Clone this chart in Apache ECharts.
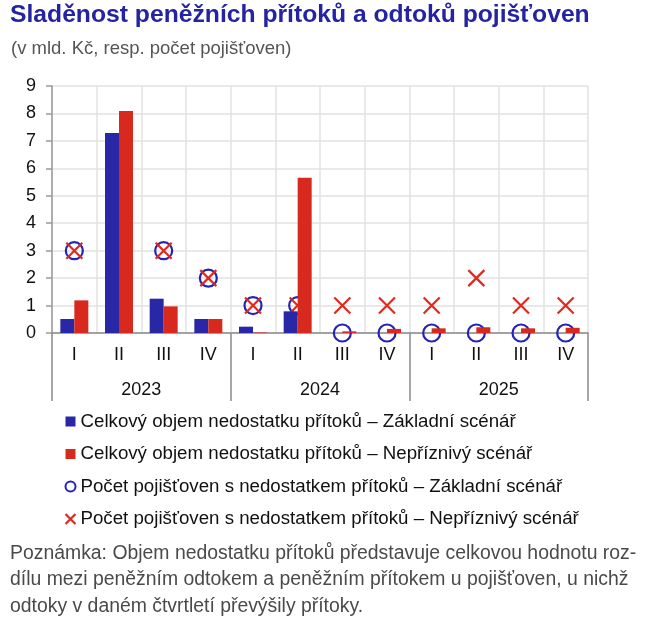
<!DOCTYPE html>
<html>
<head>
<meta charset="utf-8">
<script src="https://cdn.jsdelivr.net/npm/echarts@6/dist/echarts.min.js"></script>
<style>
html,body{margin:0;padding:0;background:#fff;}
#chart{width:670px;height:628px;}
</style>
</head>
<body>
<div id="chart"></div>
<script>
const quarters = ['I','II','III','IV','I','II','III','IV','I','II','III','IV'];
const years = ['2023','2024','2025'];
const yTicks = [0,1,2,3,4,5,6,7,8,9];
const volumeBase = [0.51, 7.29, 1.25, 0.51, 0.23, 0.79, 0, 0, 0, 0, 0, 0];
const volumeAdverse = [1.19, 8.09, 0.97, 0.51, 0.02, 5.66, 0.06, 0.15, 0.17, 0.21, 0.17, 0.19];
const countBase = [3, 3, 3, 2, 1, 1, 0, 0, 0, 0, 0, 0];
const countAdverse = [3, 3, 3, 2, 1, 1, 1, 1, 1, 2, 1, 1];
const seriesNames = [
  'Celkový objem nedostatku přítoků – Základní scénář',
  'Celkový objem nedostatku přítoků – Nepříznivý scénář',
  'Počet pojišťoven s nedostatkem přítoků – Základní scénář',
  'Počet pojišťoven s nedostatkem přítoků – Nepříznivý scénář'
];
const titleText = 'Sladěnost peněžních přítoků a odtoků pojišťoven';
const subtitleText = '(v mld. Kč, resp. počet pojišťoven)';
const noteText = 'Poznámka: Objem nedostatku přítoků představuje celkovou hodnotu roz-\ndílu mezi peněžním odtokem a peněžním přítokem u pojišťoven, u nichž\nodtoky v daném čtvrtletí převýšily přítoky.';

const BLUE = '#2828a6';
const RED = '#d8291f';
const CIRCLE = '#2424b4';
const CROSS = '#e0291c';
const FONT = '"Liberation Sans", Arial, sans-serif';
const crossPath = 'path://M0,0L10,10M10,0L0,10';

const chart = echarts.init(document.getElementById('chart'), null, {renderer:'canvas'});
chart.setOption({
  animation: false,
  backgroundColor: '#fff',
  textStyle: {fontFamily: FONT},
  title: [
    {text: titleText, left: 10, top: 3, padding: 0,
     textStyle: {fontFamily: FONT, fontSize: 24.7, fontWeight: 'bold', color: '#2424a2'}},
    {text: subtitleText, left: 11, top: 39, padding: 0,
     textStyle: {fontFamily: FONT, fontSize: 18.5, fontWeight: 'normal', color: '#555'}}
  ],
  grid: {left: 52, top: 86, width: 536, height: 247, containLabel: false},
  legend: {
    orient: 'vertical', left: 63, top: 412, padding: 0,
    itemWidth: 10, itemHeight: 10, itemGap: 13.5,
    textStyle: {fontFamily: FONT, fontSize: 18.7, color: '#111'},
    data: [
      {name: seriesNames[0], icon: 'rect'},
      {name: seriesNames[1], icon: 'rect'},
      {name: seriesNames[2], icon: 'circle', itemStyle: {color: 'rgba(0,0,0,0)', borderColor: CIRCLE, borderWidth: 2, opacity: 1}},
      {name: seriesNames[3], icon: crossPath, itemStyle: {color: 'none', borderColor: CROSS, borderWidth: 2.2, opacity: 1}}
    ]
  },
  graphic: [{
    type: 'text', left: 10, top: 540,
    style: {text: noteText, font: '19.4px "Liberation Sans", Arial, sans-serif', fill: '#4a4a4a', lineHeight: 26.5}
  }],
  xAxis: [
    {type: 'category', data: quarters, position: 'bottom', boundaryGap: true,
     axisLine: {show: true, lineStyle: {color: '#8a8a8a', width: 1.5}},
     axisTick: {show: false},
     axisLabel: {fontFamily: FONT, fontSize: 18, color: '#111', margin: 13, interval: 0},
     splitLine: {show: true, interval: 0, lineStyle: {color: '#e2e2e2', width: 1.5}}},
    {type: 'category', data: years, position: 'bottom', boundaryGap: true,
     axisLine: {show: false},
     axisTick: {show: true, length: 68, interval: 0, lineStyle: {color: '#8a8a8a', width: 1.5}},
     axisLabel: {fontFamily: FONT, fontSize: 18, color: '#111', margin: 48, interval: 0},
     splitLine: {show: false}}
  ],
  yAxis: {
    type: 'value', min: yTicks[0], max: yTicks[yTicks.length-1], interval: 1,
    axisLine: {show: true, lineStyle: {color: '#9a9a9a', width: 1.5}},
    axisTick: {show: true, length: 6, lineStyle: {color: '#9a9a9a', width: 1.5}},
    axisLabel: {fontFamily: FONT, fontSize: 18, color: '#111', margin: 16},
    splitLine: {show: true, lineStyle: {color: '#e2e2e2', width: 1.5}}
  },
  series: [
    {name: seriesNames[0], type: 'bar', data: volumeBase, barWidth: 14, barGap: '0%', z: 4,
     itemStyle: {color: BLUE}},
    {name: seriesNames[1], type: 'bar', data: volumeAdverse, barWidth: 14, barGap: '0%', z: 4,
     itemStyle: {color: RED}},
    {name: seriesNames[2], type: 'scatter', data: countBase, symbol: 'circle', symbolSize: 17, z: 2,
     itemStyle: {color: 'rgba(0,0,0,0)', borderColor: CIRCLE, borderWidth: 2.2, opacity: 1}},
    {name: seriesNames[3], type: 'scatter', data: countAdverse, symbol: crossPath, symbolSize: 16, z: 3,
     itemStyle: {color: 'none', borderColor: CROSS, borderWidth: 2.2, opacity: 1}}
  ]
});
</script>
</body>
</html>
